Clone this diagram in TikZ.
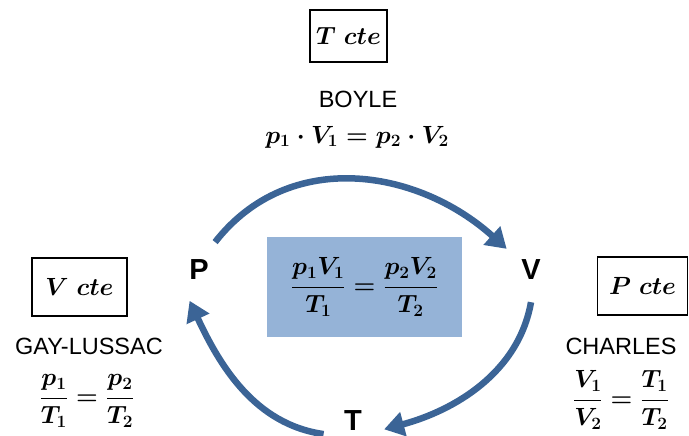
\documentclass[tikz,border=0pt]{standalone}
\usepackage[no-math]{fontspec}
\setmainfont{Liberation Sans}
\usetikzlibrary{arrows.meta,positioning}
\definecolor{ArcBlue}{HTML}{3B6496}
\definecolor{SoftBlue}{HTML}{95B3D7}

\begin{document}
\begin{tikzpicture}[
      x=1pt, y=1pt,
      cte/.style={
        draw=black,
        line width=1.3pt,
        minimum width=77pt,
        minimum height=52pt,
        font=\fontsize{23}{27}\selectfont\boldmath
      },
      lawname/.style={font=\fontsize{23.5}{28}\selectfont},
      law/.style={font=\fontsize{25.5}{30}\selectfont\boldmath, inner sep=0pt},
      var/.style={circle, minimum size=64pt, inner sep=0pt, font=\fontsize{29}{34}\selectfont\bfseries},
      flow/.style={-{Triangle[length=20pt,width=24pt]}, draw=ArcBlue, line width=6.5pt}
    ]
      \useasboundingbox (0,0) rectangle (689,436);
      % central combined law
      \node[fill=SoftBlue, minimum width=195pt, minimum height=100pt, font=\fontsize{25.5}{30}\selectfont\boldmath]
        (general) at (364.5,149) {$\displaystyle\frac{p_1V_1}{T_1}=\frac{p_2V_2}{T_2}$};
      % the three variables
      \node[var] (P) at (199,166) {P};
      \node[var] (V) at (531,166) {V};
      \node[var] (T) at (353,15) {T};
      % Boyle
      \node[cte] (tcte) at (348.5,400) {$T\;cte$};
      \node[lawname] (boyle) at (358,337) {BOYLE};
      \node[law] (boylelaw) at (357,299) {$p_1\cdot V_1=p_2\cdot V_2$};
      % Gay-Lussac
      \node[cte, minimum width=95pt, minimum height=58pt] (vcte) at (79.5,149) {$V\;cte$};
      \node[lawname] (gay) at (89,90) {GAY-LUSSAC};
      \node[law] (gaylaw) at (87,35) {$\displaystyle\frac{p_1}{T_1}=\frac{p_2}{T_2}$};
      % Charles
      \node[cte, minimum width=90pt, minimum height=58pt] (pcte) at (642.5,150) {$P\;cte$};
      \node[lawname] (charles) at (621,90) {CHARLES};
      \node[law] (charleslaw) at (621,36) {$\displaystyle\frac{V_1}{V_2}=\frac{T_1}{T_2}$};
      % cycle arrows
      \draw[flow] (P.60) to[out=52, in=138, looseness=1.05, shorten >=8pt] (V.139);
      \draw[flow] (V.-90) to[out=-100, in=15, looseness=0.95, shorten <=5pt] (T.-15);
      \draw[flow] (T.204) to[out=172, in=-65, looseness=0.95, shorten >=8pt] (P.253);
    \end{tikzpicture}
\end{document}
